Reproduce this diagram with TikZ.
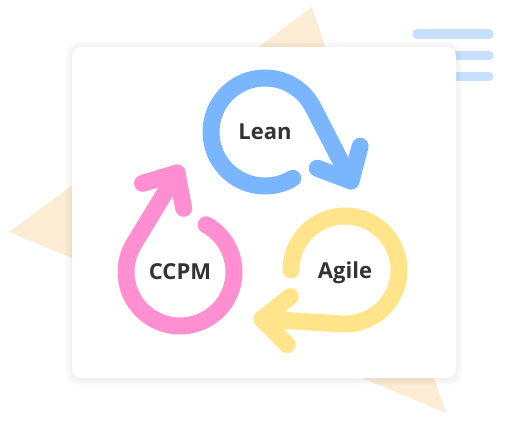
\documentclass[tikz,border=0pt]{standalone}
\usepackage{fontspec}
\newfontfamily\lblfont{Open Sans}
\usetikzlibrary{calc}
\definecolor{LeanBlue}   {HTML}{7AB6FF}
\definecolor{AgileYellow}{HTML}{FFE48A}
\definecolor{CcpmPink}   {HTML}{FF8FD0}
\definecolor{TriPeach}   {HTML}{FDECD4}
\definecolor{BarBlue}    {HTML}{C8E0FF}
\definecolor{TextGray}   {HTML}{333333}
\tikzset{
  % label in the middle of each loop
  lbl/.style={font=\lblfont\bfseries\fontsize{22}{26}\selectfont,
              text=TextGray, text depth=0pt, inner sep=0pt},
  loopline/.style={line width=17pt, line cap=round, line join=round},
  bar/.style={BarBlue, line width=9.5pt, line cap=round},
}
\begin{document}
\begin{tikzpicture}[x=1pt, y=-1pt]
\useasboundingbox (0,0) rectangle (527,423);
% backdrop
\fill[TriPeach] (312,7) -- (9,232) -- (446,413) -- cycle;
\draw[bar] (417,34) -- (489,34);
\draw[bar] (417,55.5) -- (489,55.5);
\draw[bar] (417,76.5) -- (489,76.5);
% card with a soft shadow
\foreach \s in {1,...,7}
  \fill[black, opacity=0.007, rounded corners=12] (72-\s,47-\s+1) rectangle (456+\s,378+\s+1);
\fill[white, rounded corners=9] (72,47) rectangle (456,378);
% labels
\node[lbl] (lean)  at (265,132) {Lean};
\node[lbl] (agile) at (345,270) {Agile};
\node[lbl] (ccpm)  at (180,272) {CCPM};
% loop ends
\coordinate (leanend)  at ([shift={(333:54)}]lean.center);
\coordinate (leantip)  at ([shift={(86,49)}]lean.center);
\coordinate (agileend) at ([shift={(93.5:54)}]agile.center);
\coordinate (agiletip) at ([shift={(-83,49)}]agile.center);
\coordinate (ccpmend)  at ([shift={(211.4:54)}]ccpm.center);
\coordinate (ccpmtip)  at ([shift={(-3,-99)}]ccpm.center);
% Lean
\draw[loopline, LeanBlue] ([shift={(59:54)}]lean.center)
  arc[start angle=59, end angle=333, radius=54] -- (leantip);
\draw[loopline, LeanBlue] ($(leantip)!36pt!42:(leanend)$) -- (leantip)
  -- ($(leantip)!36pt!-42:(leanend)$);
% Agile
\draw[loopline, AgileYellow] ([shift={(180:54)}]agile.center)
  arc[start angle=180, end angle=453.5, radius=54] -- (agiletip);
\draw[loopline, AgileYellow] ($(agiletip)!36pt!42:(agileend)$) -- (agiletip)
  -- ($(agiletip)!36pt!-42:(agileend)$);
% CCPM
\draw[loopline, CcpmPink] ([shift={(-61:54)}]ccpm.center)
  arc[start angle=-61, end angle=211.4, radius=54] -- (ccpmtip);
\draw[loopline, CcpmPink] ($(ccpmtip)!36pt!42:(ccpmend)$) -- (ccpmtip)
  -- ($(ccpmtip)!36pt!-42:(ccpmend)$);
\end{tikzpicture}
\end{document}
